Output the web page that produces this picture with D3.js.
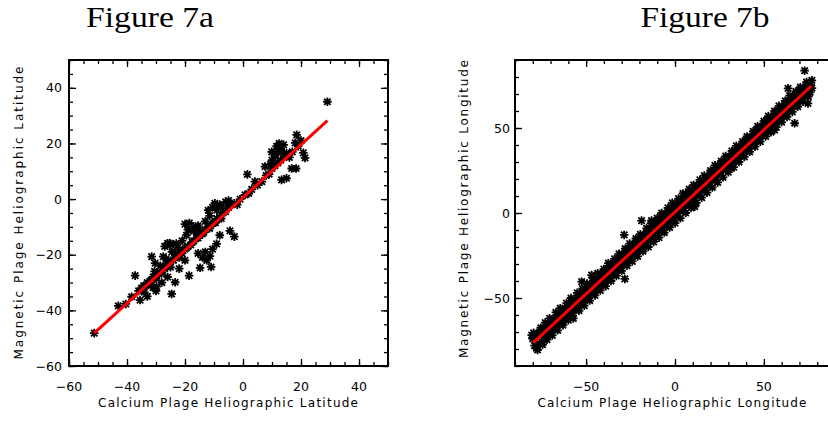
<!DOCTYPE html>
<html>
<head>
<meta charset="utf-8">
<script src="https://cdn.jsdelivr.net/npm/d3@7"></script>
<style>
  body { margin: 0; background: #fff; }
  svg text { font-family: "DejaVu Sans", sans-serif; fill: #000; }
</style>
</head>
<body>
<div id="viz"></div>
<script>
/*
 * Datos
 */
// Figura 7a: latitud (calcio vs magnetico)
var latTicks = [-60, -40, -20, 0, 20, 40];
var latPuntos = [
  [-51.3,-48.2],[-43,-38.4],[-40.4,-37.7],[-38.4,-35.1],[-35.5,-36.3],[-37.2,-27.5],[-34.2,-31.2],
  [-32.5,-30.5],[-31,-31.8],[-29.8,-31.5],[-31.5,-20.7],[-30.3,-23],[-27.5,-20.7],[-26,-15.9],
  [-25.2,-15.9],[-24.6,-34.1],[-23.4,-29.9],[-18.6,-27.5],[-14.8,-24.7],[-11.4,-20.5],[-9.1,-16.1],
  [-9.7,-1.5],[-4.5,-11.4],[-3,-13.5],[1.5,8.9],[0.7,1.5],[4.1,6.3],[6.5,6.3],[7.6,11.7],[9.9,17],
  [11.6,19],[11,15.5],[13.3,6.9],[15,7.5],[16.8,11],[18.3,11],[18.5,23.1],[18,20.2],[20.8,16.6],
  [21.4,14.8],[29.1,35],
  [-36,-33],[-35,-32],[-34,-33.5],[-33,-30],[-32,-29.5],[-33.5,-31],[-31,-28],[-30,-28.5],[-29,-27],
  [-30.5,-26],[-28,-26.5],[-27,-25],[-28.5,-24],[-26,-23],[-25,-24.5],[-26.5,-21.5],[-24,-22],
  [-23,-20],[-24.5,-19],[-22,-21],[-21,-19.5],[-22.5,-17.5],[-20,-18],[-19,-17],[-21,-15],[-18,-16.5],
  [-17,-15],[-19.5,-13],[-16,-14],[-15,-13],[-17,-11.5],[-14,-12.5],[-13,-11],[-15.5,-9.5],[-12,-10],
  [-11,-9],[-13,-8],[-10,-8.5],[-9,-7],[-11.5,-6],[-8,-6.5],[-7,-5],[-9,-4],[-6,-4.5],[-5,-3],
  [-7.5,-2.5],[-4,-2],[-6,-1],[-3,-1.5],[-5,-0.5],
  [-34.5,-32],[-31.5,-29],[-29.5,-26.5],[-27.5,-24.5],[-25.5,-22.5],[-23.5,-21],[-21.5,-19],
  [-19.5,-17.5],[-17.5,-15.5],[-15.5,-14],[-13.5,-12],[-11.5,-10.5],[-9.5,-8.5],[-7.5,-7],
  [-20,-9],[-18.5,-8.6],[-17,-10],[-16,-12],[-19,-11],[-15.5,-10.5],[-27,-17],[-25,-16.5],
  [-23,-16],[-12,-4],[-10.5,-3],[-8,-2],
  [-15.5,-19.5],[-14,-21],[-12.5,-22],[-11,-24.4],[-13,-19],[-10.5,-18],[-8,-13],
  [-20,-22],[-22,-25],[-26,-28],[-28,-30],[-30,-33],[-33,-35],
  [8,8.5],[9,9],[10,11],[11,12],[12,13],[13,14],[10,14],[12,17],[13,18],[14,16],[15,16.5],[9.5,12.5],
  [12.5,20],[14,19.5],[11,16],[16,15],[17,17],[19,19],[20,21],[5,5],[3,3.5],[2,2],[-1,0],[-2,-2]
];
var latAjuste = [[-51.3, -48.2], [29.1, 28.2]];

// Figura 7b: longitud (calcio vs magnetico)
var lonTicks = [-50, 0, 50];
var lonPuntos = [
  [-80.6,-71.8],[-77.3,-80.6],[-80,-74],[-79,-78],[-78,-72],[-77.5,-77],[-76,-70],[-75,-75.5],
  [-74,-68],[-73,-73],[-72,-66.5],[-71,-71],[-72.5,-71.5],[-70,-64],[-69,-69],[-70.5,-67],
  [-68,-62.5],[-67,-67],[-68.5,-65.5],[-66,-60],[-65,-65],[-66.5,-63],[-64,-59],[-63,-63.5],
  [-64.5,-61],[-62,-56.5],[-61,-61],[-62.5,-59],[-60,-54],[-59,-59],[-60.5,-57],[-58,-52.5],
  [-57,-57.5],[-57.2,-62],[-56,-51],[-55,-55.5],[-56.5,-53],[-54,-48.5],[-53,-53],[-54.5,-51],
  [-52,-46],[-51,-51.5],[-52.5,-40.4],[-52.5,-49],[-50,-45],[-49,-49.5],[-50.5,-47],[-48,-43],
  [-47,-47.5],[-46.9,-36.5],[-46,-41],[-45,-45.5],[-46.5,-43],[-44,-39],[-43,-43.5],[-44.5,-41],
  [-42,-37],[-41,-41.5],[-42.5,-39.5],[-40,-35],[-39,-39.5],[-40.5,-37.5],[-38,-33],[-37,-37.5],
  [-38.5,-35.5],[-36,-31],[-35,-35.5],[-36.5,-33.5],[-34,-29.5],[-33,-34],[-34.5,-31.5],
  [-32,-27],[-31,-32],[-32.5,-29.5],[-30,-25],[-29,-30],[-30.5,-27.5],[-28.6,-12.9],[-28.2,-38.8],
  [-28,-23.5],[-27,-28],[-28.5,-26],[-26,-21],[-25,-26],[-26.5,-24],[-24,-19.5],[-23,-24.5],
  [-24.5,-22],[-22,-17.5],[-21,-22.5],[-22.5,-20],[-20,-15.5],[-19,-20.5],[-20.5,-18],[-18.8,-4.5],
  [-18,-13.5],[-17,-18.5],[-18.5,-16],[-16,-11.5],[-15,-16.5],[-16.5,-14],[-14,-9.5],[-13,-14.5],
  [-14.5,-12],[-13.2,-4.5],[-12,-7.5],[-11,-12.5],[-12.5,-10],[-10,-5],[-9,-11],[-10.5,-8],
  [-8,-3],[-7,-9],[-8.5,-6],[-6,-1],[-5,-7],[-6.5,-4],[-4,1],[-3,-5],[-4.5,-2],[-2,2.5],[-1,-3],
  [-2.5,-0.5],[0,4],[1,-1.5],[-0.5,1.5],[2,6],[3,1],[1.5,3.5],[4,8],[5,3],[3.5,5.5],[6,10],[7,5],
  [5.5,7.5],[8,11.5],[9,7],[7.5,9.5],[10,13.5],[11.1,3.7],[11,9],[9.5,11],[12,15],[13,11],[11.5,13],
  [14,17],[15,13],[13.5,15],[16,19],[17,15],[15.5,17],[18,21],[19,17],[17.5,19],[20,23],[21,19],
  [19.5,21],[22,25],[23,21],[21.5,22.5],[24,27],[25,23],[23.5,24.5],[26,29],[27,25],[25.5,26.5],
  [28,30.5],[29,27],[27.5,28.5],[30,32.5],[31,28.5],[29.5,30],[31.7,26.3],[32,34.5],[33,30.5],
  [31.5,32],[34,36.5],[35,32.5],[33.5,34],[36,38.5],[37,34],[35.5,36],[38,40.5],[39,36],[37.5,38],
  [40,42.5],[41,38],[39.5,40],[42,44.5],[43,40],[41.5,42],[44,46.5],[45,42],[43.5,44],[46,48.5],
  [47,44],[45.5,46],[48,50.5],[49,46],[47.5,47.5],[50,52.5],[51,48],[49.5,49.5],[52,54.5],[53,50],
  [51.5,51.5],[54,56.5],[55,51.5],[53.5,53.5],[56,48.8],[56,58],[57,53.5],[55.5,55.5],[58,60],
  [59,55.5],[57.5,57],[60,62],[61,57.5],[59.5,59],[62,64],[63,59.5],[61.5,61],[64,66],[65,61],
  [63.6,73.3],[66,67.5],[67,63],[65.5,65],[67.3,52.8],[68,69.5],[69,65],[67.5,67],[70,71.5],
  [71,67],[69.5,69],[72,73.5],[73,69],[71.5,71],[72.9,83.7],[74,75],[75,71],[74.8,64.5],[76,75.5],
  [77,73.5],[75.5,74],
  // bordes de la banda
  [-79.5,-70.5],[-78,-79.5],[-75.5,-67.5],[-74.5,-77.5],[-73,-64.5],[-72,-74.5],[-70.5,-62],
  [-69,-72],[-67,-58.5],[-66,-69],[-64.5,-56],[-63,-66],[-61,-53],[-60,-63],[-58.5,-50],[-57.5,-60.5],
  [-55,-47],[-54,-57.5],[-52,-44.5],[-51,-54.5],[-49.5,-41.5],[-48,-51.5],[-46,-38.5],[-45,-48.5],
  [-43.5,-35.5],[-42,-45.5],[-40,-33],[-39,-43],[-37.5,-29.5],[-36,-40],[-34,-27],[-33,-37],
  [-31.5,-24],[-30,-34],[-28,-21],[-27,-31],[-25.5,-18],[-24,-28.5],[-22,-15],[-21,-25.5],
  [-19.5,-12.5],[-18,-22.5],[-16,-9],[-15,-20],[-13.5,-6],[-12,-17],[-10,-3],[-9,-14.5],[-7.5,0],
  [-6,-11.5],[-4,3],[-3,-8.5],[-1.5,6],[0,-6],[2,8.5],[3,-3],[4.5,11.5],[6,0],[8,14],[9,3],
  [10.5,16.5],[12,6],[14,19.5],[15,9],[16.5,22],[18,12],[20,25],[21,15],[22.5,28],[24,18],
  [26,30.5],[27,21],[28.5,33.5],[30,24],[32,36.5],[33,27],[34.5,39.5],[36,30],[38,42],[39,33],
  [40.5,45],[42,36],[44,48],[45,39],[46.5,51],[48,42],[50,54],[51,45],[52.5,57],[54,47.5],[56,60],
  [57,50.5],[58.5,63],[60,53.5],[62,66],[63,56.5],[64.5,69],[66,59.5],[68,71.5],[69,62.5],
  [70.5,74],[72,65.5],[74,77],[75,68.5],[77,78],[76,71]
];
var lonAjuste = [[-79.7, -76.3], [76.7, 74.7]];

/*
 * Creo el SVG
 */
var svg = d3.select('#viz')
  .append('svg')
  .attr('width', 828)
  .attr('height', 421)
  .style('background', '#fff');

// Asterisco tipo IDL psym=2
var asterisco = 'M-4.3,0L4.3,0M0,-4.3L0,4.3M-3.2,-3.2L3.2,3.2M-3.2,3.2L3.2,-3.2';

/*
 * Dibujo un panel completo
 */
function dibujarPanel(cfg) {
  var x = d3.scaleLinear().domain(cfg.xDom).range([cfg.left, cfg.right]);
  var y = d3.scaleLinear().domain(cfg.yDom).range([cfg.bottom, cfg.top]);
  var g = svg.append('g');

  var menoresX = d3.range(cfg.xDom[0], cfg.xDom[1] + 0.001, cfg.menor);
  var menoresY = d3.range(cfg.yDom[0], cfg.yDom[1] + 0.001, cfg.menor);

  //Ticks hacia adentro en los cuatro lados
  var ejes = [
    [d3.axisBottom, x, 'translate(0,' + cfg.bottom + ')', menoresX],
    [d3.axisTop, x, 'translate(0,' + cfg.top + ')', menoresX],
    [d3.axisLeft, y, 'translate(' + cfg.left + ',0)', menoresY],
    [d3.axisRight, y, 'translate(' + cfg.right + ',0)', menoresY]
  ];
  ejes.forEach(function (e) {
    g.append('g').attr('transform', e[2])
      .call(e[0](e[1]).tickValues(e[3]).tickSize(-4).tickSizeOuter(0).tickFormat(''));
    g.append('g').attr('transform', e[2])
      .call(e[0](e[1]).tickValues(cfg.ticks).tickSize(-7).tickSizeOuter(0).tickFormat(''));
  });
  g.selectAll('.domain').remove();
  g.selectAll('.tick line').attr('stroke', '#000').attr('stroke-width', 1.3);

  //Recuadro
  g.append('rect')
    .attr('x', cfg.left).attr('y', cfg.top)
    .attr('width', cfg.right - cfg.left).attr('height', cfg.bottom - cfg.top)
    .attr('fill', 'none').attr('stroke', '#000').attr('stroke-width', 2);

  //Etiquetas de ticks
  var fmt = d3.format('d');
  g.selectAll('.lx').data(cfg.ticks).enter().append('text')
    .attr('x', function (d) { return x(d); })
    .attr('y', cfg.bottom + 25)
    .attr('text-anchor', 'middle')
    .style('font-size', '12.5px')
    .text(fmt);
  g.selectAll('.ly').data(cfg.ticks).enter().append('text')
    .attr('x', cfg.left - cfg.gapY)
    .attr('y', function (d) { return y(d) + 4.5; })
    .attr('text-anchor', 'end')
    .style('font-size', '12.5px')
    .text(fmt);

  //Titulos de los ejes
  g.append('text')
    .attr('x', cfg.xTitulo[0]).attr('y', 407)
    .attr('text-anchor', 'middle')
    .attr('textLength', cfg.xTitulo[1]).attr('lengthAdjust', 'spacing')
    .style('font-size', '12px')
    .text(cfg.xLabel);
  g.append('text')
    .attr('transform', 'translate(' + cfg.yTitulo[0] + ',' + cfg.yTitulo[2] + ') rotate(-90)')
    .attr('text-anchor', 'middle')
    .attr('textLength', cfg.yTitulo[1]).attr('lengthAdjust', 'spacing')
    .style('font-size', '12px')
    .text(cfg.yLabel);

  //Titulo de la figura
  svg.append('text')
    .attr('x', cfg.titulo[0]).attr('y', 27)
    .attr('text-anchor', 'middle')
    .attr('textLength', cfg.titulo[1]).attr('lengthAdjust', 'spacingAndGlyphs')
    .style('font-family', '"Liberation Serif", serif')
    .style('font-size', '29px')
    .text(cfg.nombre);

  //Puntos
  g.selectAll('.pt').data(cfg.puntos).enter().append('path')
    .attr('d', asterisco)
    .attr('transform', function (d) { return 'translate(' + x(d[0]) + ',' + y(d[1]) + ')'; })
    .attr('stroke', '#000')
    .attr('stroke-width', 1.8)
    .attr('fill', 'none');

  //Recta de ajuste
  g.append('path')
    .datum(cfg.ajuste)
    .attr('d', d3.line().x(function (d) { return x(d[0]); }).y(function (d) { return y(d[1]); }))
    .attr('stroke', '#ff0000')
    .attr('stroke-width', 3)
    .attr('fill', 'none');
}

dibujarPanel({
  nombre: 'Figure 7a', titulo: [150, 128],
  left: 69, right: 388, top: 60, bottom: 366,
  xDom: [-60, 50], yDom: [-60, 50], ticks: latTicks, menor: 5, gapY: 7,
  puntos: latPuntos, ajuste: latAjuste,
  xLabel: 'Calcium Plage Heliographic Latitude', xTitulo: [228, 260],
  yLabel: 'Magnetic Plage Heliographic Latitude', yTitulo: [23, 293, 213]
});

dibujarPanel({
  nombre: 'Figure 7b', titulo: [705, 129],
  left: 515, right: 835, top: 60, bottom: 366,
  xDom: [-90, 90], yDom: [-90, 90], ticks: lonTicks, menor: 10, gapY: 5,
  puntos: lonPuntos, ajuste: lonAjuste,
  xLabel: 'Calcium Plage Heliographic Longitude', xTitulo: [672, 269],
  yLabel: 'Magnetic Plage Heliographic Longitude', yTitulo: [468, 298, 209]
});
</script>
</body>
</html>
